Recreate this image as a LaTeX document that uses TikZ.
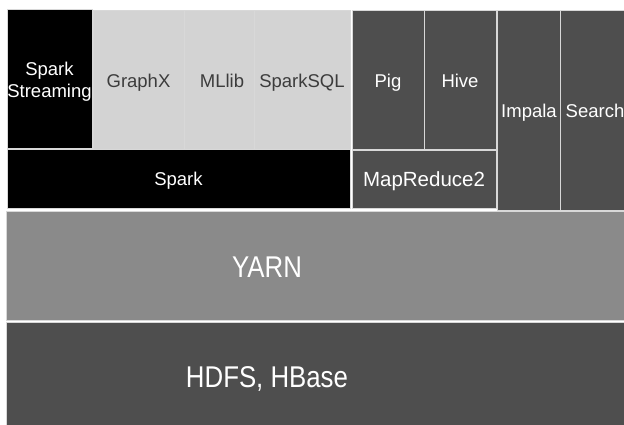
\documentclass[tikz,border=0pt]{standalone}
\usepackage{fontspec}
\setmainfont{Liberation Sans}
\usetikzlibrary{positioning}

\definecolor{darkbox}{HTML}{4E4E4E}
\definecolor{lightbox}{HTML}{D3D3D3}
\definecolor{midbox}{HTML}{8A8A8A}
\definecolor{edgeline}{HTML}{D8D8D8}
\definecolor{greytext}{HTML}{3C3C3C}

\tikzset{
	layer/.style={draw=edgeline, line width=1pt, inner sep=0pt, align=center, text depth=0pt,
		font=\fontsize{18.5}{22}\selectfont},
	blackbox/.style={layer, fill=black, text=white},
	greybox/.style={layer, fill=lightbox, text=greytext},
	darkgreybox/.style={layer, fill=darkbox, text=white},
	biglabel/.style={font=\fontsize{30}{34}\selectfont, xscale=0.86, transform shape}
}

\begin{document}
\begin{tikzpicture}[x=1pt, y=-1pt]
			%%%%% START %%%%%
			
			\useasboundingbox[fill=white] (0, 0) rectangle (624, 425);
			
			% spark stack
			\node[blackbox, minimum width=85, minimum height=139] (streaming) at (49.5, 79.5) {Spark\\Streaming};
			\node[greybox, minimum width=91, minimum height=139] (graphx) at (138.5, 80.5) {GraphX};
			\node[greybox, minimum width=70, minimum height=140] (mllib) at (219, 81) {\hspace{6pt}MLlib};
			\node[greybox, minimum width=96, minimum height=139] (sparksql) at (302, 80.5) {SparkSQL};
			\node[blackbox, minimum width=343, minimum height=58] (spark) at (178.5, 179) {Spark};
			
			% mapreduce stack
			\node[darkgreybox, minimum width=72, minimum height=139] (pig) at (388, 80.5) {Pig};
			\node[darkgreybox, minimum width=72, minimum height=139] (hive) at (460, 80.5) {Hive};
			\node[darkgreybox, minimum width=144, minimum height=57, font=\fontsize{20.5}{24}\selectfont] (mapreduce) at (424, 179.5) {MapReduce2};
			
			% standalone engines
			\node[darkgreybox, minimum width=64, minimum height=199] (impala) at (529, 110.5) {Impala};
			\node[darkgreybox, minimum width=63, minimum height=199] (search) at (592.5, 110.5) {\hspace{5pt}Search};
			
			% resource manager and storage
			\node[layer, fill=midbox, minimum width=618, minimum height=109] (yarn) at (315, 265.5) {};
			\node[biglabel, text=white] (yarnlabel) at (267, 267) {YARN};
			\node[layer, fill=darkbox, minimum width=618, minimum height=104] (hdfs) at (315, 374) {};
			\node[biglabel, text=white] (hdfslabel) at (267, 379) {HDFS, HBase};
			
			%%%%% END %%%%%
\end{tikzpicture}
\end{document}
